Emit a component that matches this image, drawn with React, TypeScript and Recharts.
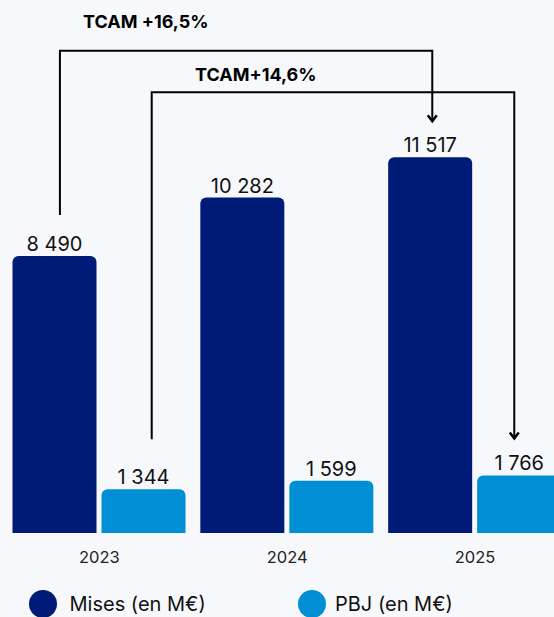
import React from 'react';
import { BarChart, Bar, XAxis, YAxis, LabelList } from 'recharts';

const years = ['2023', '2024', '2025'];
const mises = [8490, 10282, 11517];
const pbj = [1344, 1599, 1766];
const tcamMises = 'TCAM +16,5%';
const tcamPbj = 'TCAM+14,6%';
const legendLabels = ['Mises (en M€)', 'PBJ (en M€)'];

const data = years.map((year, i) => ({ year, mises: mises[i], pbj: pbj[i] }));

const NAVY = '#001a78';
const BLUE = '#008fd5';
const BG = '#f7f8fc';
const FONT = 'Inter, "Open Sans", sans-serif';

const W = 569;
const H = 617;
const margin = { top: 11, right: 0, left: 5.5, bottom: 54 };
const xAxisHeight = 30;
const yMax = 16000;
const barSize = 84;
const barGap = 5;

// same geometry the chart uses, for the annotation arrows
const plotTop = margin.top;
const plotBottom = H - margin.bottom - xAxisHeight;
const band = (W - margin.left - margin.right) / years.length;
const yPos = (v: number) => plotBottom - (v / yMax) * (plotBottom - plotTop);
const barCenter = (i: number, s: number) =>
  margin.left + band * i + band / 2 + (s === 0 ? -1 : 1) * (barSize + barGap) / 2;
const labelTop = (v: number) => yPos(v) - 5 - 14;

const fmt = (v: number) => String(v).replace(/\B(?=(\d{3})+(?!\d))/g, ' ');

const Arrows = () => {
  const last = years.length - 1;
  const a1x0 = barCenter(0, 0) + 5;
  const a1x1 = barCenter(last, 0) + 1.7;
  const a1y0 = labelTop(mises[0]) - 22;
  const a1tip = labelTop(mises[last]) - 17;
  const a2x0 = barCenter(0, 1) + 7.8;
  const a2x1 = barCenter(last, 1) - 5.3;
  const a2y0 = labelTop(pbj[0]) - 31;
  const a2tip = labelTop(pbj[last]) - 18;
  const top1 = 50.7;
  const top2 = 92.3;
  const head = (x: number, y: number) => `M${x - 4.5},${y - 6} L${x},${y} L${x + 4.5},${y - 6}`;
  return (
    <svg width={554} height={H} style={{ position: 'absolute', left: 0, top: 0, pointerEvents: 'none' }}>
      <g fill="none" stroke="#000" strokeWidth={2}>
        <path d={`M${a1x0},${a1y0} V${top1} H${a1x1} V${a1tip}`} />
        <path d={head(a1x1, a1tip)} strokeWidth={2.5} />
        <path d={`M${a2x0},${a2y0} V${top2} H${a2x1} V${a2tip}`} />
        <path d={head(a2x1, a2tip)} strokeWidth={2.5} />
      </g>
      <text x={83} y={28.3} fontFamily={FONT} fontWeight={700} fontSize={18} fill="#000">{tcamMises}</text>
      <text x={195} y={81} fontFamily={FONT} fontWeight={700} fontSize={18} fill="#000">{tcamPbj}</text>
    </svg>
  );
};

const Legend = () => (
  <div style={{ position: 'absolute', left: 0, top: 590, width: 554, height: 30, fontFamily: FONT, fontSize: 20, color: '#111' }}>
    {[NAVY, BLUE].map((c, i) => (
      <div key={i} style={{ position: 'absolute', left: i === 0 ? 28.5 : 298, top: 0, display: 'flex', alignItems: 'center' }}>
        <span style={{ display: 'inline-block', width: 28, height: 28, borderRadius: 14, background: c }} />
        <span style={{ marginLeft: i === 0 ? 13 : 9 }}>{legendLabels[i]}</span>
      </div>
    ))}
  </div>
);

export default function App() {
  return (
    <div style={{ position: 'absolute', left: 0, top: 0, width: 554, height: H, overflow: 'hidden', background: BG }}>
      <BarChart
        width={W}
        height={H}
        data={data}
        margin={margin}
        barSize={barSize}
        barGap={barGap}
      >
        <XAxis
          dataKey="year"
          height={xAxisHeight}
          axisLine={false}
          tickLine={false}
          tickSize={0}
          tickMargin={18}
          tick={{ fill: '#222', fontSize: 16.5, fontFamily: FONT }}
        />
        <YAxis hide domain={[0, yMax]} />
        <Bar dataKey="mises" fill={NAVY} radius={[6, 6, 0, 0]} isAnimationActive={false}>
          <LabelList dataKey="mises" position="top" offset={5} formatter={(v: any) => fmt(v)} fill="#111" fontSize={20} fontFamily={FONT} />
        </Bar>
        <Bar dataKey="pbj" fill={BLUE} radius={[6, 6, 0, 0]} isAnimationActive={false}>
          <LabelList dataKey="pbj" position="top" offset={5} formatter={(v: any) => fmt(v)} fill="#111" fontSize={20} fontFamily={FONT} />
        </Bar>
      </BarChart>
      <Arrows />
      <Legend />
    </div>
  );
}
